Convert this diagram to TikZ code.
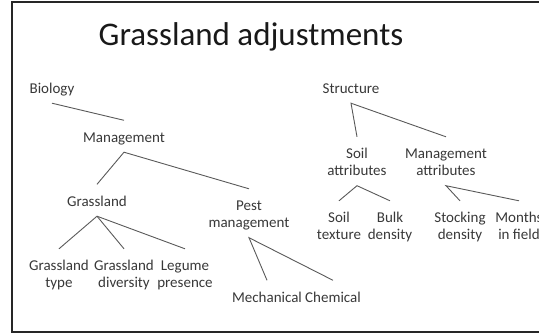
\documentclass[tikz,border=0pt]{standalone}
\usepackage{fontspec}
\setmainfont{Carlito}
\begin{document}
\begin{tikzpicture}[x=1pt,y=-1pt,
  lbl/.style={anchor=base,align=center,inner xsep=0pt,inner ysep=10pt,
    text height=11.5pt,text depth=0pt,text=black!78,
    font=\fontsize{15}{17}\selectfont},
  % two-line labels are placed by the baseline of their second line
  lbltwo/.style={lbl,text height=28.5pt},
  branch/.style={draw=black!65,line width=0.9pt},
  frame/.style={draw=black!85,line width=1.8pt}]
\useasboundingbox (0,0) rectangle (539,335);
\clip (0,0) rectangle (539,335);
% slide frame (its right edge lies past the page)
\draw[frame] (12,2) rectangle (570,332);
% heading
\node[anchor=base,inner sep=0pt,text=black!90,font=\fontsize{33}{36}\selectfont]
  (title) at (251,45) {Grassland adjustments};
% left tree
\node[lbl] (bio) at (52,93) {Biology};
\node[lbl] (mgmt) at (124,142) {Management};
\node[lbl] (grass) at (97,206) {Grassland};
\node[lbltwo] (pest) at (249,227.5) {Pest\\management};
\node[lbltwo] (gtype) at (59,287.5) {Grassland\\type};
\node[lbltwo] (gdiv) at (124,287.5) {Grassland\\diversity};
\node[lbltwo] (legume) at (185,287.5) {Legume\\presence};
\node[lbl] (mech) at (267,302) {Mechanical};
\node[lbl] (chem) at (333,302) {Chemical};
% right tree
\node[lbl] (struct) at (351,93) {Structure};
\node[lbltwo] (soilattr) at (357,175.5) {Soil\\attributes};
\node[lbltwo] (mgmtattr) at (446,175.5) {Management\\attributes};
\node[lbltwo] (texture) at (339,239.5) {Soil\\texture};
\node[lbltwo] (bulk) at (390,239.5) {Bulk\\density};
\node[lbltwo] (stock) at (460,239.5) {Stocking\\density};
\node[lbltwo] (months) at (519,239.5) {Months\\in field};
% branches
\draw[branch] (bio.south) -- (mgmt.north);
\draw[branch] (grass.north) -- (mgmt.south) -- (pest.north);
\draw[branch] (gtype.north) -- (grass.south) -- (gdiv.north);
\draw[branch] (grass.south) -- (legume.north);
\draw[branch] (mech.north) -- (pest.south) -- (chem.north);
\draw[branch] (soilattr.north) -- (struct.south) -- (mgmtattr.north);
\draw[branch] (texture.north) -- (soilattr.south) -- (bulk.north);
\draw[branch] (stock.north) -- (mgmtattr.south) -- (months.north);
\end{tikzpicture}
\end{document}
